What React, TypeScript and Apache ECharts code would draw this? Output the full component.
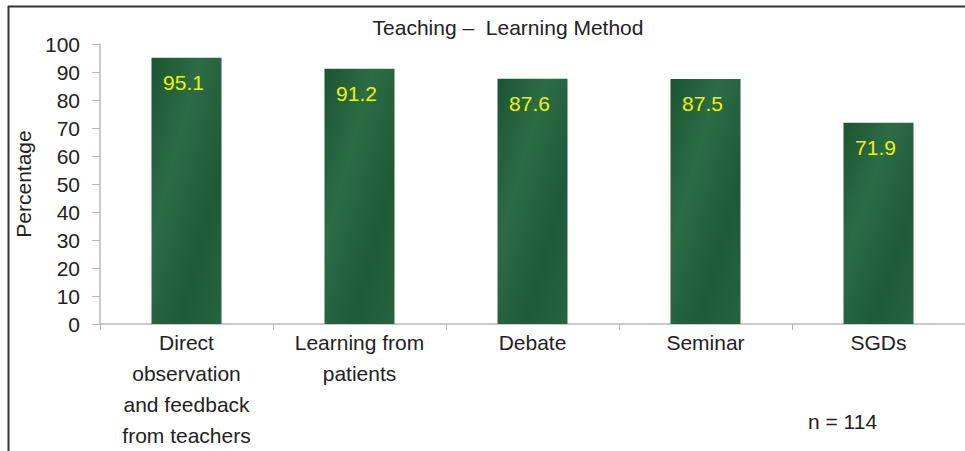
import React, { useEffect, useRef } from "react";
import * as echarts from "echarts";

const categories = [
  "Direct\nobservation\nand feedback\nfrom teachers",
  "Learning from\npatients",
  "Debate",
  "Seminar",
  "SGDs",
];
const values = [95.1, 91.2, 87.6, 87.5, 71.9];
const titleText = "Teaching –  Learning Method";
const yAxisName = "Percentage";
const noteText = "n = 114";

export default function App() {
  const ref = useRef<HTMLDivElement>(null);
  useEffect(() => {
    if (!ref.current) return;
    const chart = echarts.init(ref.current, null, { renderer: "svg" });
    const font = "'Liberation Sans', Arial, sans-serif";
    chart.setOption({
      animation: false,
      backgroundColor: "#ffffff",
      textStyle: { fontFamily: font },
      title: {
        text: titleText,
        left: 503,
        top: 12,
        textAlign: "center",
        textStyle: { fontSize: 21, fontWeight: "normal", color: "#222", fontFamily: font },
      },
      grid: { left: 100, right: 0, top: 44, bottom: 120, containLabel: false },
      xAxis: {
        type: "category",
        data: categories,
        axisLine: { lineStyle: { color: "#b8b8b8", width: 1.5 } },
        axisTick: { show: true, length: 6, lineStyle: { color: "#b8b8b8" } },
        axisLabel: {
          fontSize: 21,
          color: "#222",
          lineHeight: 31,
          margin: 3,
          interval: 0,
          fontFamily: font,
        },
      },
      yAxis: {
        type: "value",
        min: 0,
        max: 100,
        interval: 10,
        name: yAxisName,
        nameLocation: "middle",
        nameGap: 55,
        nameRotate: 90,
        nameTextStyle: { fontSize: 21, color: "#222", fontFamily: font },
        axisLine: { show: true, lineStyle: { color: "#b8b8b8", width: 1.5 } },
        axisTick: { show: true, length: 8, lineStyle: { color: "#b8b8b8" } },
        axisLabel: { fontSize: 21, color: "#222", margin: 20, fontFamily: font },
        splitLine: { show: false },
      },
      series: [
        {
          type: "bar",
          data: values,
          barWidth: 70,
          itemStyle: {
            color: new echarts.graphic.LinearGradient(0, 0, 1, 1, [
              { offset: 0, color: "#1b5532" },
              { offset: 0.35, color: "#2b6c45" },
              { offset: 0.7, color: "#1e5a36" },
              { offset: 1, color: "#256440" },
            ]),
          },
          label: {
            show: true,
            position: "insideTop",
            distance: 14,
            offset: [-3, 0],
            fontSize: 21,
            color: "#f2f200",
            fontFamily: font,
          },
        },
      ],
      graphic: [
        {
          type: "line",
          shape: { x1: 8, y1: 6.5, x2: 965, y2: 6.5 },
          style: { stroke: "#333", lineWidth: 2 },
        },
        {
          type: "line",
          shape: { x1: 8.5, y1: 6, x2: 8.5, y2: 451 },
          style: { stroke: "#333", lineWidth: 2 },
        },
        {
          type: "text",
          left: 808,
          top: 411,
          style: { text: noteText, fontSize: 21, fill: "#222", fontFamily: font },
        },
      ],
    });
    return () => chart.dispose();
  }, []);
  return (
    <div
      ref={ref}
      style={{ position: "fixed", left: 0, top: 0, width: 965, height: 451 }}
    />
  );
}
